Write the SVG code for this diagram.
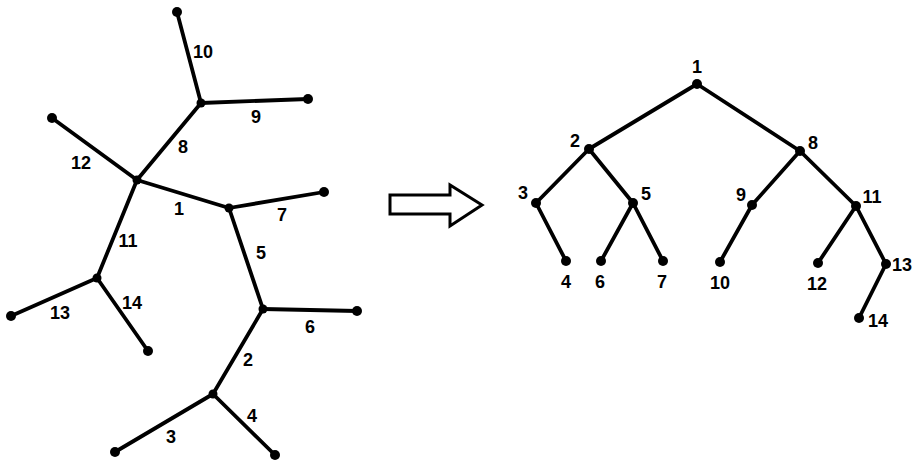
<svg xmlns="http://www.w3.org/2000/svg" width="920" height="463" viewBox="0 0 920 463">
<style>
.e{stroke:#000;stroke-width:3.8;stroke-linecap:round;fill:none}
.n{fill:#000}
text{font-family:"Liberation Sans",Arial,sans-serif;font-weight:bold;font-size:18px;fill:#000;text-anchor:middle;dominant-baseline:central}
</style>
<rect width="920" height="463" fill="#fff"/>
<g id="connectors">
<line class="e" x1="177" y1="12" x2="201" y2="103"/>
<line class="e" x1="201" y1="103" x2="308" y2="99"/>
<line class="e" x1="201" y1="103" x2="137" y2="180"/>
<line class="e" x1="52" y1="118" x2="137" y2="180"/>
<line class="e" x1="137" y1="180" x2="229" y2="208"/>
<line class="e" x1="229" y1="208" x2="324" y2="192"/>
<line class="e" x1="137" y1="180" x2="97" y2="278"/>
<line class="e" x1="97" y1="278" x2="11" y2="316"/>
<line class="e" x1="97" y1="278" x2="148" y2="351"/>
<line class="e" x1="229" y1="208" x2="263" y2="309"/>
<line class="e" x1="263" y1="309" x2="357" y2="311"/>
<line class="e" x1="263" y1="309" x2="213" y2="394"/>
<line class="e" x1="213" y1="394" x2="115" y2="452"/>
<line class="e" x1="213" y1="394" x2="275" y2="455"/>
<line class="e" x1="697" y1="84" x2="589" y2="149"/>
<line class="e" x1="697" y1="84" x2="800" y2="151"/>
<line class="e" x1="589" y1="149" x2="536" y2="203"/>
<line class="e" x1="589" y1="149" x2="633" y2="203"/>
<line class="e" x1="536" y1="203" x2="566" y2="261"/>
<line class="e" x1="633" y1="203" x2="601" y2="261"/>
<line class="e" x1="633" y1="203" x2="663" y2="261"/>
<line class="e" x1="800" y1="151" x2="752" y2="205"/>
<line class="e" x1="800" y1="151" x2="856" y2="206"/>
<line class="e" x1="752" y1="205" x2="720" y2="262"/>
<line class="e" x1="856" y1="206" x2="818" y2="263"/>
<line class="e" x1="856" y1="206" x2="886" y2="264"/>
<line class="e" x1="886" y1="264" x2="859" y2="318"/>
<path d="M390,195 H450 V185 L482,205 L450,226 V214 H390 Z" fill="#fff" stroke="#000" stroke-width="3" stroke-linejoin="miter"/>
</g>
<g id="left-tree-nodes">
<circle class="n" cx="177" cy="12" r="5"/>
<circle class="n" cx="201" cy="103" r="4.5"/>
<circle class="n" cx="308" cy="99" r="5"/>
<circle class="n" cx="52" cy="118" r="5"/>
<circle class="n" cx="137" cy="180" r="4.5"/>
<circle class="n" cx="229" cy="208" r="4.5"/>
<circle class="n" cx="324" cy="192" r="5"/>
<circle class="n" cx="97" cy="278" r="4.5"/>
<circle class="n" cx="11" cy="316" r="5"/>
<circle class="n" cx="148" cy="351" r="5"/>
<circle class="n" cx="263" cy="309" r="4.5"/>
<circle class="n" cx="357" cy="311" r="5"/>
<circle class="n" cx="213" cy="394" r="4.5"/>
<circle class="n" cx="115" cy="452" r="5"/>
<circle class="n" cx="275" cy="455" r="5"/>
</g>
<g id="left-tree-labels">
<text x="203" y="52">10</text>
<text x="256" y="117">9</text>
<text x="183" y="147">8</text>
<text x="81" y="163">12</text>
<text x="179" y="209">1</text>
<text x="282" y="215">7</text>
<text x="128" y="241">11</text>
<text x="60" y="313">13</text>
<text x="132" y="303">14</text>
<text x="261" y="253">5</text>
<text x="310" y="327">6</text>
<text x="248" y="360">2</text>
<text x="171" y="437">3</text>
<text x="252" y="416">4</text>
</g>
<g id="node-1"><circle class="n" cx="697" cy="84" r="5"/><text x="697" y="67">1</text></g>
<g id="node-2"><circle class="n" cx="589" cy="149" r="5"/><text x="575" y="141">2</text></g>
<g id="node-8"><circle class="n" cx="800" cy="151" r="5"/><text x="813" y="143">8</text></g>
<g id="node-3"><circle class="n" cx="536" cy="203" r="5"/><text x="523" y="193">3</text></g>
<g id="node-5"><circle class="n" cx="633" cy="203" r="5"/><text x="646" y="194">5</text></g>
<g id="node-9"><circle class="n" cx="752" cy="205" r="5"/><text x="741" y="195">9</text></g>
<g id="node-11"><circle class="n" cx="856" cy="206" r="5"/><text x="872" y="197">11</text></g>
<g id="node-4"><circle class="n" cx="566" cy="261" r="5"/><text x="566" y="282">4</text></g>
<g id="node-6"><circle class="n" cx="601" cy="261" r="5"/><text x="600" y="282">6</text></g>
<g id="node-7"><circle class="n" cx="663" cy="261" r="5"/><text x="662" y="282">7</text></g>
<g id="node-10"><circle class="n" cx="720" cy="262" r="5"/><text x="720" y="283">10</text></g>
<g id="node-12"><circle class="n" cx="818" cy="263" r="5"/><text x="817" y="284">12</text></g>
<g id="node-13"><circle class="n" cx="886" cy="264" r="5"/><text x="902" y="265">13</text></g>
<g id="node-14"><circle class="n" cx="859" cy="318" r="5"/><text x="878" y="321">14</text></g>
</svg>
